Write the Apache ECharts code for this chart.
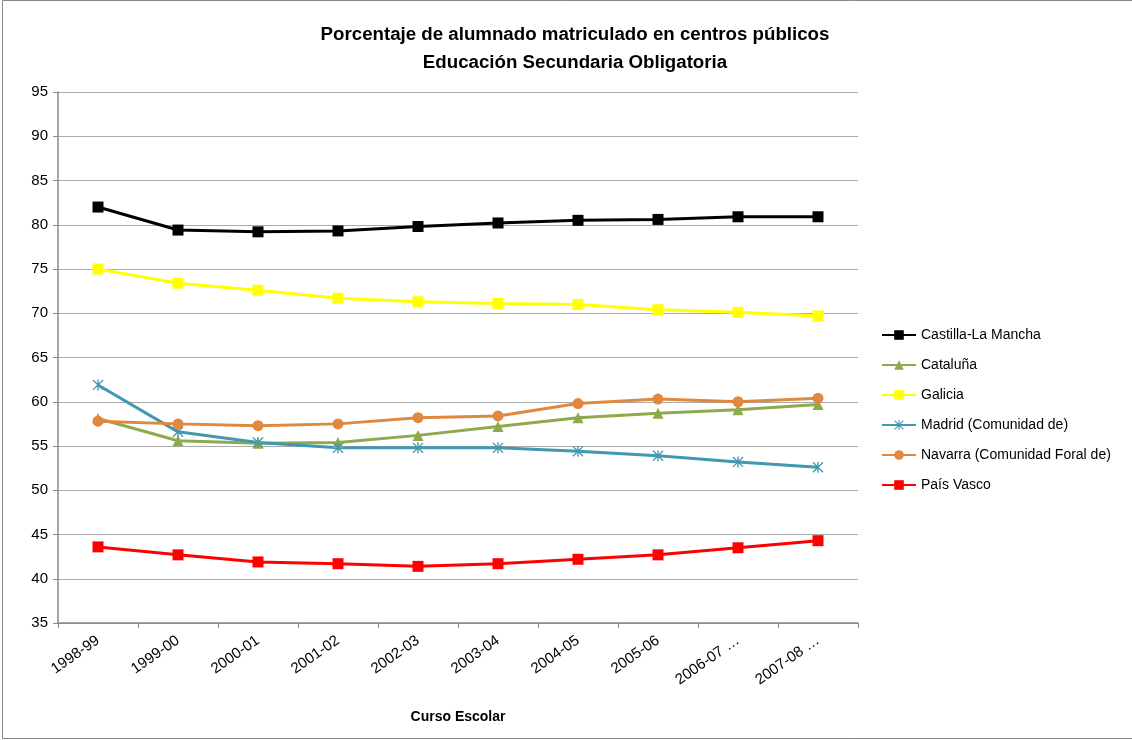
<!DOCTYPE html>
<html>
<head>
<meta charset="utf-8">
<script src="https://cdn.jsdelivr.net/npm/echarts@6/dist/echarts.min.js"></script>
<style>html,body{margin:0;padding:0;background:#fff}#c{width:1132px;height:740px}</style>
</head>
<body>
<div id="c"></div>
<script>
const categories = ['1998-99','1999-00','2000-01','2001-02','2002-03','2003-04','2004-05','2005-06','2006-07 …','2007-08 …'];
const castilla = [82.0, 79.4, 79.2, 79.3, 79.8, 80.2, 80.5, 80.6, 80.9, 80.9];
const cataluna = [58.1, 55.6, 55.3, 55.4, 56.2, 57.2, 58.2, 58.7, 59.1, 59.7];
const galicia  = [75.0, 73.4, 72.6, 71.7, 71.3, 71.1, 71.0, 70.4, 70.1, 69.7];
const madrid   = [61.9, 56.6, 55.4, 54.8, 54.8, 54.8, 54.4, 53.9, 53.2, 52.6];
const navarra  = [57.8, 57.5, 57.3, 57.5, 58.2, 58.4, 59.8, 60.3, 60.0, 60.4];
const paisVasco= [43.6, 42.7, 41.9, 41.7, 41.4, 41.7, 42.2, 42.7, 43.5, 44.3];
const yTicks = {min: 35, max: 95, interval: 5};

const FONT = 'Liberation Sans';
const asterisk = 'path://M-0.6,-5L0.6,-5L0.6,5L-0.6,5Z M-4.9,-4.1L-4.1,-4.9L4.9,4.1L4.1,4.9Z M4.1,-4.9L4.9,-4.1L-4.1,4.9L-4.9,4.1Z';

function mk(name, data, color, symbol, size) {
  return {
    name, type: 'line', data, symbol, symbolSize: size,
    lineStyle: {color, width: 3},
    itemStyle: {color, borderWidth: 0},
    emphasis: {disabled: true},
    animation: false
  };
}

const chart = echarts.init(document.getElementById('c'), null, {renderer: 'canvas'});
chart.setOption({
  backgroundColor: '#fff',
  animation: false,
  graphic: [{type: 'rect', shape: {x: 2.5, y: 0.5, width: 1200, height: 738}, style: {fill: 'none', stroke: '#888', lineWidth: 1}, silent: true}],
  title: {
    text: 'Porcentaje de alumnado matriculado en centros públicos\nEducación Secundaria Obligatoria',
    left: 570, top: 16, textAlign: 'center',
    textStyle: {fontFamily: FONT, fontSize: 18.7, fontWeight: 'bold', color: '#000', lineHeight: 28}
  },
  legend: {
    orient: 'vertical', left: 876, top: 323, itemGap: 16, itemWidth: 34, itemHeight: 12,
    textStyle: {fontFamily: FONT, fontSize: 14, color: '#000'},
    data: ['Castilla-La Mancha','Cataluña','Galicia','Madrid (Comunidad de)','Navarra (Comunidad Foral de)','País Vasco']
  },
  grid: {left: 58, right: 274, top: 92, bottom: 117},
  xAxis: {
    type: 'category', data: categories, boundaryGap: true,
    name: 'Curso Escolar', nameLocation: 'middle', nameGap: 87,
    nameTextStyle: {fontFamily: FONT, fontSize: 14, fontWeight: 'bold', color: '#000'},
    axisLine: {lineStyle: {color: '#888', width: 1.5}},
    axisTick: {show: true, alignWithLabel: false, length: 5, lineStyle: {color: '#888'}},
    axisLabel: {rotate: 35, fontFamily: FONT, fontSize: 15, color: '#000', margin: 16}
  },
  yAxis: {
    type: 'value', min: yTicks.min, max: yTicks.max, interval: yTicks.interval,
    axisLine: {show: true, lineStyle: {color: '#888', width: 1.5}},
    axisTick: {show: true, length: 5, lineStyle: {color: '#888'}},
    axisLabel: {fontFamily: FONT, fontSize: 15, color: '#000', margin: 10},
    splitLine: {lineStyle: {color: '#aaa', width: 1.2}}
  },
  series: [
    mk('Castilla-La Mancha', castilla, '#000000', 'rect', 11),
    mk('Cataluña', cataluna, '#8FAA4B', 'triangle', 11),
    mk('Galicia', galicia, '#FFFF00', 'rect', 11),
    mk('Madrid (Comunidad de)', madrid, '#4198B0', asterisk, 11),
    mk('Navarra (Comunidad Foral de)', navarra, '#E0883F', 'circle', 11),
    mk('País Vasco', paisVasco, '#FF0000', 'rect', 11)
  ]
});
</script>
</body>
</html>
